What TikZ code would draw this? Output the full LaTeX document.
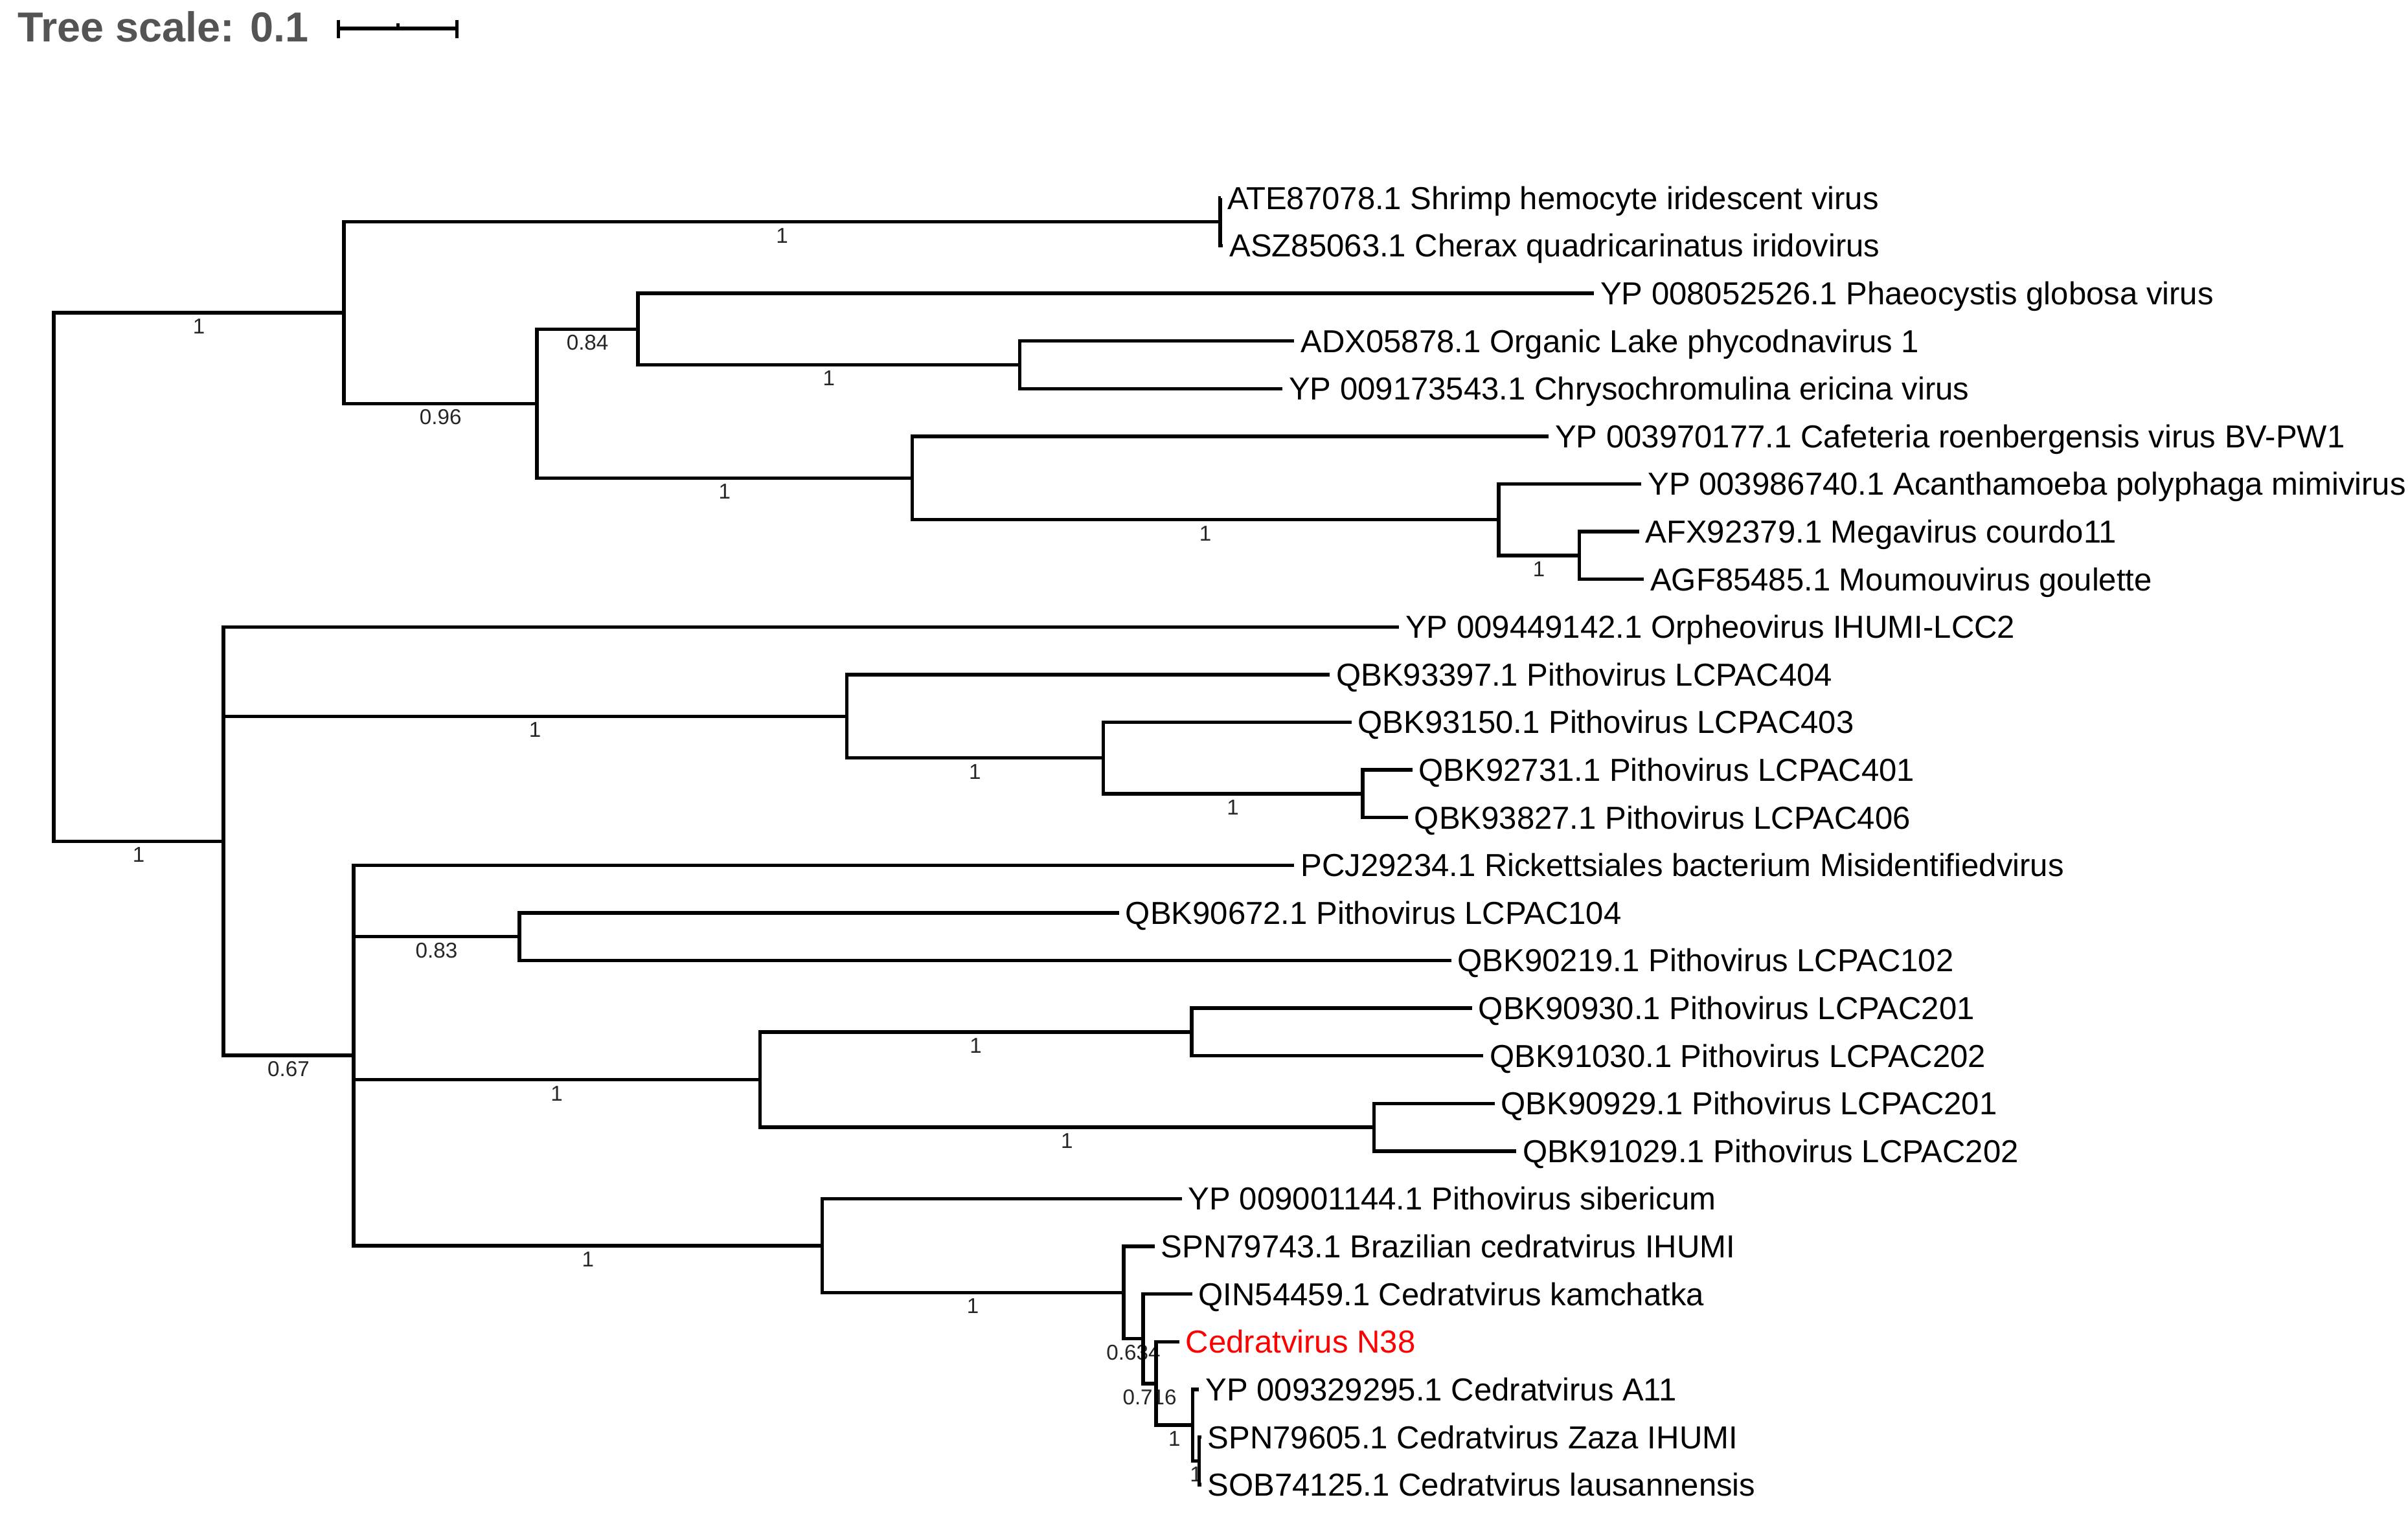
\documentclass[tikz,border=0pt]{standalone}
\usepackage{fontspec}
\setmainfont{Liberation Sans}

\begin{document}
\begin{tikzpicture}
[
  x=1pt, y=-1pt,
  branch/.style={line width=2.3pt},
  elbow/.style={to path={|- (\tikztotarget) \tikztonodes}},
  leaf/.style={anchor=west, inner xsep=4pt, inner ysep=0pt, text height=14.8pt, text depth=0pt, font=\fontsize{20.7}{24}\selectfont},
  support/.style={pos=.75, below, inner sep=2.5pt, text height=10pt, text depth=0pt, font=\fontsize{14}{16}\selectfont, text=black!85},
  highlight/.style={text=red}
]
 \useasboundingbox (0,0) rectangle (1568,988);

 % scale bar
 \node[anchor=base west, inner sep=0pt, text=black!67, font=\bfseries\fontsize{27.3}{30}\selectfont] (scale) at (11.5,27.2) {Tree scale: 0.1};
 \draw[line width=2.2pt] (220.5,18.6) -- (297.6,18.6) (220.5,12.9) -- (220.5,25) (297.6,12.9) -- (297.6,25) (259.3,15) -- (259.3,18.6);

 % internal nodes
 \coordinate (n0) at (35,375.9);
 \coordinate (nA) at (224,203.7);
 \coordinate (nA1) at (794.5,144.5);
 \coordinate (nA2) at (349.7,262.9);
 \coordinate (nA3) at (415.4,214.4);
 \coordinate (nA4) at (594,311.4);
 \coordinate (nA5) at (664,237.6);
 \coordinate (nA6) at (975.8,338.5);
 \coordinate (nA7) at (1028.4,361.8);
 \coordinate (nB) at (145.5,548);
 \coordinate (nB1) at (551.3,466.6);
 \coordinate (nB2) at (230.3,687.5);
 \coordinate (nB3) at (718.4,493.7);
 \coordinate (nB4) at (887.3,517);
 \coordinate (nB5) at (338.2,610.1);
 \coordinate (nB6) at (494.8,703.3);
 \coordinate (nB7) at (535.4,811.4);
 \coordinate (nB8) at (776,672.2);
 \coordinate (nB9) at (894.7,734.3);
 \coordinate (nB10) at (731.6,842);
 \coordinate (nC1) at (744.4,872);
 \coordinate (nC2) at (752.8,901.2);
 \coordinate (nC3) at (776.7,928.3);
 \coordinate (nC4) at (780.9,951.6);

 % leaves
 \node[leaf] (l1) at (795,129) {ATE87078.1 Shrimp hemocyte iridescent virus};
 \node[leaf] (l2) at (796.4,160) {ASZ85063.1 Cherax quadricarinatus iridovirus};
 \node[leaf] (l3) at (1037.9,191.1) {YP 008052526.1 Phaeocystis globosa virus};
 \node[leaf] (l4) at (842.8,222.1) {ADX05878.1 Organic Lake phycodnavirus 1};
 \node[leaf] (l5) at (835.1,253.2) {YP 009173543.1 Chrysochromulina ericina virus};
 \node[leaf] (l6) at (1008.4,284.2) {YP 003970177.1 Cafeteria roenbergensis virus BV-PW1};
 \node[leaf] (l7) at (1068.8,315.2) {YP 003986740.1 Acanthamoeba polyphaga mimivirus};
 \node[leaf] (l8) at (1067.2,346.3) {AFX92379.1 Megavirus courdo11};
 \node[leaf] (l9) at (1070.4,377.3) {AGF85485.1 Moumouvirus goulette};
 \node[leaf] (l10) at (911,408.4) {YP 009449142.1 Orpheovirus IHUMI-LCC2};
 \node[leaf] (l11) at (865.9,439.4) {QBK93397.1 Pithovirus LCPAC404};
 \node[leaf] (l12) at (880,470.4) {QBK93150.1 Pithovirus LCPAC403};
 \node[leaf] (l13) at (919.6,501.5) {QBK92731.1 Pithovirus LCPAC401};
 \node[leaf] (l14) at (916.8,532.5) {QBK93827.1 Pithovirus LCPAC406};
 \node[leaf] (l15) at (842.8,563.6) {PCJ29234.1 Rickettsiales bacterium Misidentifiedvirus};
 \node[leaf] (l16) at (728.7,594.6) {QBK90672.1 Pithovirus LCPAC104};
 \node[leaf] (l17) at (945,625.6) {QBK90219.1 Pithovirus LCPAC102};
 \node[leaf] (l18) at (958.6,656.7) {QBK90930.1 Pithovirus LCPAC201};
 \node[leaf] (l19) at (965.9,687.7) {QBK91030.1 Pithovirus LCPAC202};
 \node[leaf] (l20) at (973.2,718.8) {QBK90929.1 Pithovirus LCPAC201};
 \node[leaf] (l21) at (987.3,749.8) {QBK91029.1 Pithovirus LCPAC202};
 \node[leaf] (l22) at (769.6,780.8) {YP 009001144.1 Pithovirus sibericum};
 \node[leaf] (l23) at (751.8,811.9) {SPN79743.1 Brazilian cedratvirus IHUMI};
 \node[leaf] (l24) at (776.3,842.9) {QIN54459.1 Cedratvirus kamchatka};
 \node[leaf,highlight] (l25) at (767.9,874) {Cedratvirus N38};
 \node[leaf] (l26) at (780.8,905) {YP 009329295.1 Cedratvirus A11};
 \node[leaf] (l27) at (782.2,936) {SPN79605.1 Cedratvirus Zaza IHUMI};
 \node[leaf] (l28) at (782.2,967.1) {SOB74125.1 Cedratvirus lausannensis};

 \path[branch]
   (n0) edge[elbow] node[support] {1} (nA)
        edge[elbow] node[support] {1} (nB)
   (nA) edge[elbow] node[support] {1} (nA1)
        edge[elbow] node[support] {0.96} (nA2)
   (nA1) edge[elbow] (l1.west)
         edge[elbow] (l2.west)
   (nA2) edge[elbow] node[support] {0.84} (nA3)
         edge[elbow] node[support] {1} (nA4)
   (nA3) edge[elbow] (l3.west)
         edge[elbow] node[support] {1} (nA5)
   (nA5) edge[elbow] (l4.west)
         edge[elbow] (l5.west)
   (nA4) edge[elbow] (l6.west)
         edge[elbow] node[support] {1} (nA6)
   (nA6) edge[elbow] (l7.west)
         edge[elbow] node[support] {1} (nA7)
   (nA7) edge[elbow] (l8.west)
         edge[elbow] (l9.west);

 \path[branch]
   (nB) edge[elbow] (l10.west)
        edge[elbow] node[support] {1} (nB1)
        edge[elbow] node[support] {0.67} (nB2)
   (nB1) edge[elbow] (l11.west)
         edge[elbow] node[support] {1} (nB3)
   (nB3) edge[elbow] (l12.west)
         edge[elbow] node[support] {1} (nB4)
   (nB4) edge[elbow] (l13.west)
         edge[elbow] (l14.west)
   (nB2) edge[elbow] (l15.west)
         edge[elbow] node[support] {0.83} (nB5)
         edge[elbow] node[support] {1} (nB6)
         edge[elbow] node[support] {1} (nB7)
   (nB5) edge[elbow] (l16.west)
         edge[elbow] (l17.west)
   (nB6) edge[elbow] node[support] {1} (nB8)
         edge[elbow] node[support] {1} (nB9)
   (nB8) edge[elbow] (l18.west)
         edge[elbow] (l19.west)
   (nB9) edge[elbow] (l20.west)
         edge[elbow] (l21.west)
   (nB7) edge[elbow] (l22.west)
         edge[elbow] node[support] {1} (nB10)
   (nB10) edge[elbow] (l23.west)
          edge[elbow] node[support] {0.634} (nC1)
   (nC1) edge[elbow] (l24.west)
         edge[elbow] node[support] {0.716} (nC2)
   (nC2) edge[elbow] (l25.west)
         edge[elbow] node[support] {1} (nC3)
   (nC3) edge[elbow] (l26.west)
         edge[elbow] node[support] {1} (nC4)
   (nC4) edge[elbow] (l27.west)
         edge[elbow] (l28.west);
\end{tikzpicture}
\end{document}
